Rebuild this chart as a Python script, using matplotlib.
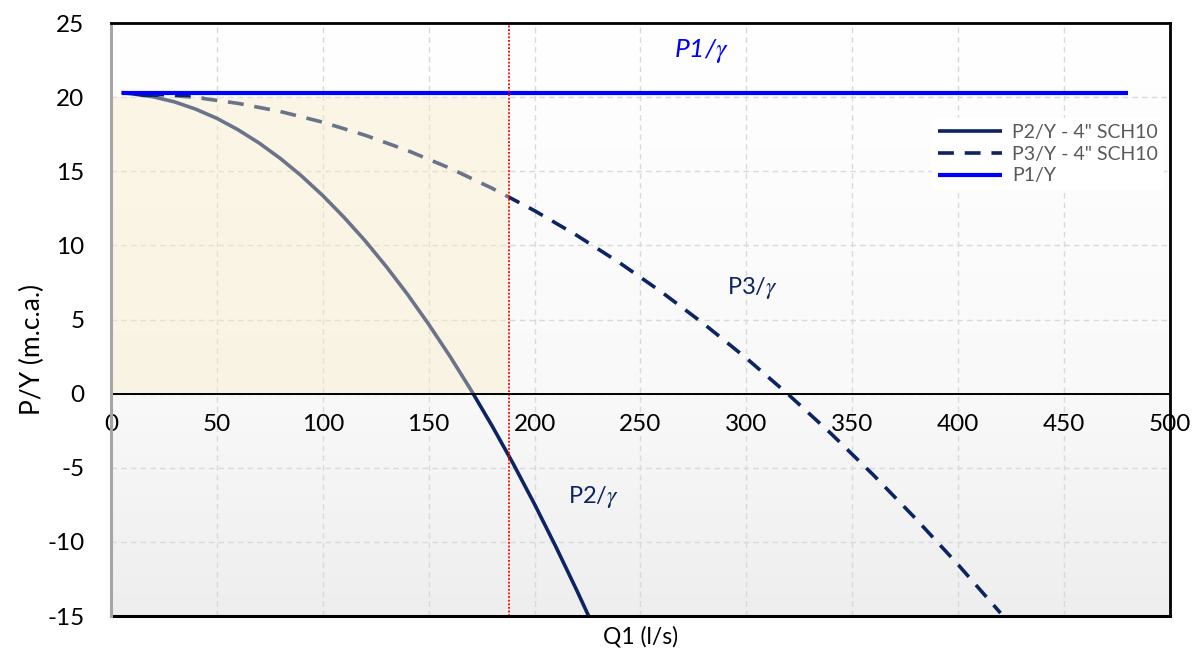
import numpy as np
import matplotlib
matplotlib.use("Agg")
import matplotlib.pyplot as plt
from matplotlib.patches import Rectangle
from matplotlib.colors import LinearSegmentedColormap

plt.rcParams['font.family'] = ['Lato', 'DejaVu Sans']
plt.rcParams['mathtext.fontset'] = 'stix'
plt.rcParams['axes.unicode_minus'] = False

# Flow (l/s) and pressure heads (m.c.a.)
q_p1 = [5, 480]
p1 = [20.3, 20.3]

q_p2 = [5, 10, 20, 30, 40, 50, 60, 70, 80, 90, 100, 110, 120, 130, 140, 150,
        160, 170, 180, 190, 200, 210, 220, 226.5]
p2 = [20.3, 20.23, 20.02, 19.68, 19.19, 18.57, 17.80, 16.90, 15.86, 14.68,
      13.36, 11.90, 10.31, 8.57, 6.70, 4.68, 2.53, 0.24, -2.19, -4.75, -7.46,
      -10.31, -13.29, -15.3]

q_p3 = [5, 20, 40, 60, 80, 100, 120, 140, 160, 180, 200, 220, 240, 260, 280,
        300, 320, 340, 360, 380, 400, 420]
p3 = [20.3, 20.22, 19.98, 19.58, 19.03, 18.31, 17.43, 16.40, 15.21, 13.85, 12.34,
      10.67, 8.84, 6.85, 4.70, 2.39, -0.08, -2.70, -5.49, -8.44, -11.54, -14.80]

q_limit = 188       # operating flow limit
p_limit_top = 20    # top of the operating zone

x_ticks = [0, 50, 100, 150, 200, 250, 300, 350, 400, 450, 500]
y_ticks = [-15, -10, -5, 0, 5, 10, 15, 20, 25]

navy = '#0c2461'
blue = '#0000ff'

fig = plt.figure(figsize=(11.92, 6.52), dpi=100)
ax = fig.add_axes([0.0931, 0.0552, 0.8884, 0.9095])
ax.set_xlim(0, 500)
ax.set_ylim(-15, 25)

# soft vertical gradient for the plot background
grad = LinearSegmentedColormap.from_list(
    'bg', [(0.0, '#eeeeee'), (0.375, '#f9f9f9'), (1.0, '#ffffff')])
ax.imshow(np.linspace(0, 1, 256).reshape(-1, 1), cmap=grad, aspect='auto',
          extent=(0, 500, -15, 25), origin='lower', zorder=0)

ax.grid(True, color='#d9d9d9', linestyle=(0, (4, 3)), linewidth=1.0, zorder=1)
ax.set_axisbelow(True)

dash = (0, (4.4, 3.0))
ax.plot(q_p2, p2, color=navy, lw=2.6, solid_capstyle='butt', zorder=3,
        label='P2/Y - 4" SCH10')
ax.plot(q_p3, p3, color=navy, lw=2.6, linestyle=dash, dash_capstyle='butt',
        zorder=3, label='P3/Y - 4" SCH10')

# translucent operating zone laid over the curves
ax.add_patch(Rectangle((0, 0), q_limit, p_limit_top, facecolor='#f8ebc3',
                       alpha=0.40, edgecolor='none', zorder=4))

ax.plot(q_p1, p1, color=blue, lw=3.0, solid_capstyle='butt', zorder=5,
        label='P1/Y')
ax.axvline(q_limit, color='#ff0000', lw=1.3, linestyle=(0, (1, 1)), zorder=6)
ax.axhline(0, color='black', lw=1.4, zorder=6)

# frame
ax.spines['bottom'].set_position(('data', 0))
ax.spines['bottom'].set_visible(False)
ax.axhline(-15, color='black', lw=2.2, zorder=7, clip_on=False)
ax.spines['top'].set_color('black')
ax.spines['top'].set_linewidth(2.0)
ax.spines['right'].set_color('black')
ax.spines['right'].set_linewidth(2.0)
ax.spines['left'].set_color('#a6a6a6')
ax.spines['left'].set_linewidth(2.2)
for s in ax.spines.values():
    s.set_zorder(8)

ax.set_xticks(x_ticks)
ax.set_yticks(y_ticks)
ax.tick_params(axis='both', length=0, labelsize=17.5, labelcolor='black')
ax.tick_params(axis='x', pad=15)
ax.tick_params(axis='y', pad=19)

ax.set_xlabel('Q1 (l/s)', fontsize=16.5)
ax.xaxis.set_label_coords(0.5, -0.016, transform=ax.transAxes)
ax.xaxis.label.set_verticalalignment('top')
ax.set_ylabel('P/Y (m.c.a.)', fontsize=19)
ax.yaxis.set_label_coords(-0.062, 0.449)

ax.text(266.0, 22.7, 'P1/$\\gamma$', color=blue, fontsize=19, style='italic',
        ha='left', va='baseline', zorder=9)
ax.text(290.8, 6.7, 'P3/$\\gamma$', color=navy, fontsize=17,
        ha='left', va='baseline', zorder=9)
ax.text(215.8, -7.4, 'P2/$\\gamma$', color=navy, fontsize=17,
        ha='left', va='baseline', zorder=9)

leg = ax.legend(loc='upper left', bbox_to_anchor=(0.775, 0.84), frameon=True,
                fancybox=False, edgecolor='none', facecolor='white',
                framealpha=1.0, fontsize=14, handlelength=3.3,
                handletextpad=0.55, labelspacing=0.25, borderpad=0.3,
                borderaxespad=0)
for t in leg.get_texts():
    t.set_color('#595959')
leg.set_zorder(10)

fig.savefig('out.png', dpi=100, facecolor='white')
